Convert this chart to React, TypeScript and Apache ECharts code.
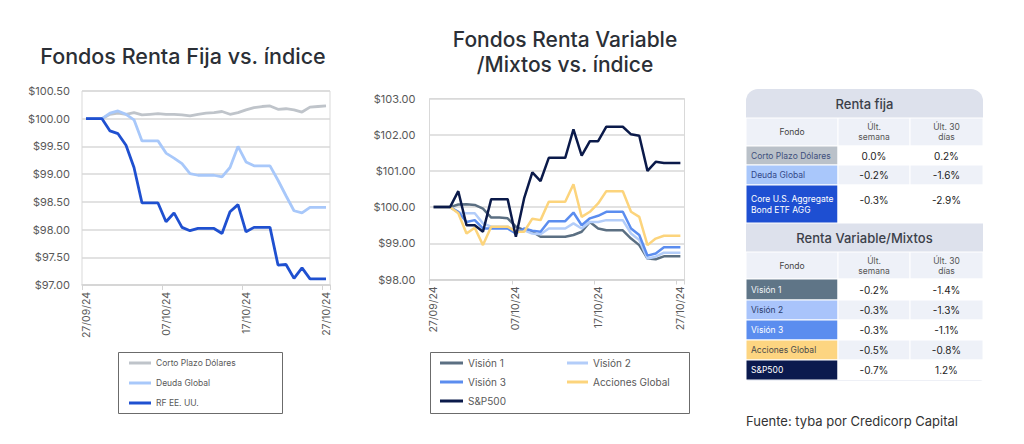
import React, { useEffect, useRef } from "react";
import * as echarts from "echarts";

const dates = [
  "27/09/24", "28/09/24", "29/09/24", "30/09/24", "01/10/24", "02/10/24", "03/10/24", "04/10/24",
  "05/10/24", "06/10/24", "07/10/24", "08/10/24", "09/10/24", "10/10/24", "11/10/24", "12/10/24",
  "13/10/24", "14/10/24", "15/10/24", "16/10/24", "17/10/24", "18/10/24", "19/10/24", "20/10/24",
  "21/10/24", "22/10/24", "23/10/24", "24/10/24", "25/10/24", "26/10/24", "27/10/24",
];

// Renta Fija
const cortoPlazo = [100.0, 100.0, 100.0, 100.08, 100.1, 100.08, 100.11, 100.07, 100.08, 100.09, 100.08, 100.08, 100.07, 100.05, 100.08, 100.1, 100.11, 100.13, 100.08, 100.11, 100.16, 100.2, 100.22, 100.23, 100.17, 100.18, 100.16, 100.12, 100.21, 100.22, 100.23];
const deudaGlobal = [100.0, 100.0, 100.0, 100.1, 100.14, 100.08, 99.98, 99.6, 99.6, 99.6, 99.38, 99.29, 99.19, 99.01, 98.98, 98.98, 98.98, 98.95, 99.12, 99.5, 99.22, 99.15, 99.15, 99.15, 98.89, 98.61, 98.34, 98.3, 98.4, 98.4, 98.4];
const rfEEUU = [100.0, 100.0, 100.0, 99.78, 99.73, 99.52, 99.12, 98.48, 98.48, 98.48, 98.14, 98.3, 98.04, 97.98, 98.02, 98.02, 98.02, 97.93, 98.32, 98.45, 97.96, 98.04, 98.04, 98.04, 97.36, 97.37, 97.12, 97.31, 97.11, 97.11, 97.11];

// Renta Variable / Mixtos
const vision1 = [100.0, 100.0, 100.0, 100.07, 100.08, 100.06, 99.96, 99.71, 99.71, 99.69, 99.46, 99.36, 99.32, 99.18, 99.18, 99.18, 99.18, 99.23, 99.32, 99.59, 99.41, 99.36, 99.36, 99.36, 99.13, 98.95, 98.58, 98.56, 98.64, 98.64, 98.64];
const vision2 = [100.0, 100.0, 100.0, 99.85, 99.83, 99.83, 99.55, 99.46, 99.46, 99.46, 99.32, 99.36, 99.27, 99.25, 99.41, 99.41, 99.41, 99.55, 99.41, 99.59, 99.59, 99.64, 99.64, 99.64, 99.27, 99.09, 98.58, 98.63, 98.74, 98.74, 98.74];
const vision3 = [100.0, 100.0, 100.0, 99.87, 99.59, 99.64, 99.41, 99.41, 99.41, 99.41, 99.27, 99.41, 99.35, 99.32, 99.61, 99.61, 99.61, 99.85, 99.5, 99.69, 99.76, 99.87, 99.87, 99.87, 99.41, 99.23, 98.66, 98.72, 98.89, 98.89, 98.89];
const accionesGlobal = [100.0, 100.0, 100.0, 99.83, 99.27, 99.43, 98.95, 99.46, 99.46, 99.46, 99.32, 99.32, 99.68, 99.64, 100.15, 100.15, 100.15, 100.63, 99.73, 99.87, 100.1, 100.44, 100.44, 100.44, 99.87, 99.73, 98.95, 99.13, 99.21, 99.21, 99.21];
const sp500 = [100.0, 100.0, 100.0, 100.44, 99.5, 99.5, 99.32, 100.22, 100.22, 100.22, 99.18, 100.24, 100.96, 100.72, 101.36, 101.36, 101.36, 102.15, 101.42, 101.82, 101.82, 102.22, 102.22, 102.22, 102.01, 101.97, 101.0, 101.25, 101.22, 101.22, 101.22];

// Table
const rfNames = ["Corto Plazo Dólares", "Deuda Global", "Core U.S. Aggregate\nBond ETF AGG"];
const rfWeek = ["0.0%", "-0.2%", "-0.3%"];
const rfMonth = ["0.2%", "-1.6%", "-2.9%"];
const rvNames = ["Visión 1", "Visión 2", "Visión 3", "Acciones Global", "S&P500"];
const rvWeek = ["-0.2%", "-0.3%", "-0.3%", "-0.5%", "-0.7%"];
const rvMonth = ["-1.4%", "-1.3%", "-1.1%", "-0.8%", "1.2%"];

const FONT = "Inter, 'Noto Sans', sans-serif";

const rfStyle = [
  { bg: "#bac1c9", fg: "#3e4f7c" },
  { bg: "#a9c7fb", fg: "#33488a" },
  { bg: "#1e4fd2", fg: "#ffffff" },
];
const rvStyle = [
  { bg: "#5f7587", fg: "#f2f4f7" },
  { bg: "#a9c4fb", fg: "#2b3b6b" },
  { bg: "#5b8def", fg: "#ffffff" },
  { bg: "#fdd581", fg: "#4a4a4a" },
  { bg: "#0b1a4e", fg: "#ffffff" },
];

function buildTable(): any[] {
  const els: any[] = [];
  const cx = [746, 838, 910, 983];
  const c2 = (cx[1] + cx[2]) / 2;
  const c3 = (cx[2] + cx[3]) / 2;
  const headFill = "#dde1ec";
  const subFill = "#eef1f8";
  const rect = (x0: number, y0: number, x1: number, y1: number, fill: string) => ({
    type: "rect",
    shape: { x: x0, y: y0, width: x1 - x0, height: y1 - y0 },
    style: { fill, stroke: "#ffffff", lineWidth: 1 },
    silent: true,
  });
  const txt = (x: number, y: number, text: string, font: string, fill: string, align = "center", lh = 10) => ({
    type: "text",
    x,
    y,
    style: { text, font, fill, align, verticalAlign: "middle", lineHeight: lh },
    silent: true,
  });
  els.push({
    type: "rect",
    shape: { x: cx[0], y: 89, width: cx[3] - cx[0], height: 292, r: [12, 12, 3, 3] },
    style: { fill: headFill },
    silent: true,
  });

  const section = (top: number, title: string, names: string[], week: string[], month: string[], styles: any[], rowB: number[]) => {
    els.push(txt((cx[0] + cx[3]) / 2, top + 15, title, `500 13px ${FONT}`, "#3b4049"));
    const hy0 = top + 29;
    const hy1 = rowB[0];
    els.push(rect(cx[0], hy0, cx[1], hy1, subFill));
    els.push(rect(cx[1], hy0, cx[2], hy1, subFill));
    els.push(rect(cx[2], hy0, cx[3], hy1, subFill));
    const hm = (hy0 + hy1) / 2;
    els.push(txt((cx[0] + cx[1]) / 2, hm, "Fondo", `8.5px ${FONT}`, "#444"));
    els.push(txt(c2, hm, "Últ.\nsemana", `8.5px ${FONT}`, "#555"));
    els.push(txt(c3, hm, "Últ. 30\ndías", `8.5px ${FONT}`, "#555"));
    names.forEach((n, i) => {
      const y0 = rowB[i];
      const y1 = rowB[i + 1];
      const fill = i % 2 === 0 ? "#ffffff" : subFill;
      els.push(rect(cx[0], y0, cx[1], y1, styles[i].bg));
      els.push(rect(cx[1], y0, cx[2], y1, fill));
      els.push(rect(cx[2], y0, cx[3], y1, fill));
      const m = (y0 + y1) / 2;
      const vm = y1 - y0 > 30 ? y0 + 15 : m;
      els.push(txt(cx[0] + 5, m, n, `8.5px ${FONT}`, styles[i].fg, "left", 11));
      els.push(txt(c2, vm, week[i], `10px ${FONT}`, "#222"));
      els.push(txt(c3, vm, month[i], `10px ${FONT}`, "#222"));
    });
  };
  section(89, "Renta fija", rfNames, rfWeek, rfMonth, rfStyle, [146, 165, 185, 223]);
  section(223, "Renta Variable/Mixtos", rvNames, rvWeek, rvMonth, rvStyle, [279, 300, 320, 340, 360, 380]);
  return els;
}

export default function App() {
  const ref = useRef<HTMLDivElement>(null);
  useEffect(() => {
    if (!ref.current) return;
    const chart = echarts.init(ref.current, undefined, { renderer: "svg" });
    const axisLabelStyle = { color: "#595959", fontSize: 11, fontFamily: FONT };
    const xAxisBase = (gridIndex: number) => ({
      type: "category",
      gridIndex,
      data: dates,
      boundaryGap: true,
      axisLine: { show: true, lineStyle: { color: "#d4d4d4", width: 1.5 } },
      axisTick: { show: true, interval: 9, alignWithLabel: false, length: 5, lineStyle: { color: "#d4d4d4" } },
      axisLabel: { interval: 9, rotate: 90, margin: 7, color: "#595959", fontSize: 10.5, fontFamily: FONT },
      splitLine: { show: false },
    });
    const line = (name: string, data: number[], color: string, idx: number, width: number) => ({
      name,
      type: "line",
      xAxisIndex: idx,
      yAxisIndex: idx,
      data,
      showSymbol: false,
      symbol: "none",
      lineStyle: { color, width },
      itemStyle: { color },
    });
    const legendText = (fs: number) => ({ color: "#595959", fontSize: fs, fontFamily: FONT, lineHeight: fs });
    chart.setOption({
      animation: false,
      grid: [
        { left: 82, top: 91, width: 248, height: 194, show: true, borderColor: "#d9d9d9", borderWidth: 1, containLabel: false },
        { left: 429.5, top: 98.5, width: 255, height: 181, show: true, borderColor: "#d9d9d9", borderWidth: 1, containLabel: false },
      ],
      xAxis: [xAxisBase(0), xAxisBase(1)],
      yAxis: [
        {
          type: "value",
          gridIndex: 0,
          min: 97,
          max: 100.5,
          interval: 0.5,
          axisLine: { show: false },
          axisTick: { show: false },
          axisLabel: { ...axisLabelStyle, margin: 12, formatter: (v: number) => "$" + v.toFixed(2) },
          splitLine: { lineStyle: { color: "#d9d9d9", width: 1.5 } },
        },
        {
          type: "value",
          gridIndex: 1,
          min: 98,
          max: 103,
          interval: 1,
          axisLine: { show: false },
          axisTick: { show: false },
          axisLabel: { ...axisLabelStyle, margin: 14, formatter: (v: number) => "$" + v.toFixed(2) },
          splitLine: { lineStyle: { color: "#d9d9d9", width: 1.5 } },
        },
      ],
      legend: [
        {
          data: ["Corto Plazo Dólares", "Deuda Global", "RF EE. UU."],
          orient: "vertical",
          left: 129,
          top: 358.5,
          icon: "rect",
          itemWidth: 22,
          itemHeight: 3,
          itemGap: 11,
          padding: 0,
          textStyle: legendText(8.5),
          selectedMode: false,
        },
        {
          data: ["Visión 1", "Visión 3", "S&P500"],
          orient: "vertical",
          left: 440,
          top: 358,
          icon: "rect",
          itemWidth: 23,
          itemHeight: 3,
          itemGap: 9,
          padding: 0,
          textStyle: legendText(10),
          selectedMode: false,
        },
        {
          data: ["Visión 2", "Acciones Global"],
          orient: "vertical",
          left: 567,
          top: 358,
          icon: "rect",
          itemWidth: 21,
          itemHeight: 3,
          itemGap: 9,
          padding: 0,
          textStyle: legendText(10),
          selectedMode: false,
        },
      ],
      series: [
        line("Corto Plazo Dólares", cortoPlazo, "#bfc4ca", 0, 2.8),
        line("Deuda Global", deudaGlobal, "#a8c8fa", 0, 2.8),
        line("RF EE. UU.", rfEEUU, "#1f50d0", 0, 2.8),
        line("Visión 1", vision1, "#5b6f82", 1, 2.5),
        line("Visión 2", vision2, "#b3cdf9", 1, 2.5),
        line("Visión 3", vision3, "#5b8def", 1, 2.5),
        line("Acciones Global", accionesGlobal, "#fcd47c", 1, 2.5),
        line("S&P500", sp500, "#0b1a4a", 1, 2.5),
      ],
      graphic: [
        {
          type: "text",
          x: 183,
          y: 56,
          style: { text: "Fondos Renta Fija vs. índice", font: `500 21.5px ${FONT}`, fill: "#2b2f36", align: "center", verticalAlign: "middle" },
        },
        {
          type: "text",
          x: 565,
          y: 52,
          style: {
            text: "Fondos Renta Variable\n/Mixtos vs. índice",
            font: `500 21px ${FONT}`,
            fill: "#2b2f36",
            align: "center",
            verticalAlign: "middle",
            lineHeight: 25,
          },
        },
        {
          type: "rect",
          shape: { x: 118.5, y: 352.5, width: 164, height: 61 },
          style: { fill: "none", stroke: "#6b6b6b", lineWidth: 1 },
          silent: true,
        },
        {
          type: "rect",
          shape: { x: 430.5, y: 352.5, width: 259, height: 61 },
          style: { fill: "none", stroke: "#6b6b6b", lineWidth: 1 },
          silent: true,
        },
        ...buildTable(),
        {
          type: "text",
          x: 746,
          y: 421,
          style: { text: "Fuente: tyba por Credicorp Capital", font: `13px ${FONT}`, fill: "#333", align: "left", verticalAlign: "middle" },
        },
      ],
    });
    return () => chart.dispose();
  }, []);
  return <div ref={ref} style={{ position: "fixed", left: 0, top: 0, width: 1024, height: 444, background: "#fff" }} />;
}
